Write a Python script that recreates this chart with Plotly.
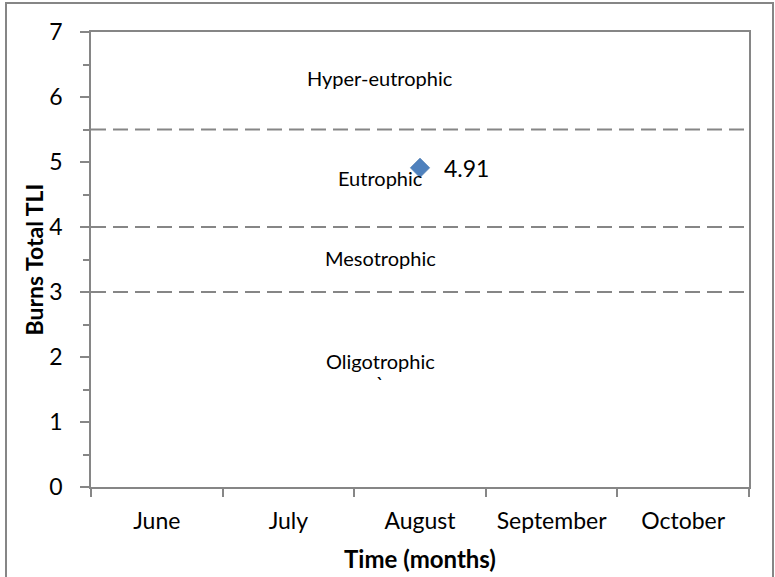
import plotly.graph_objects as go

# ---- data ----
months = ["June", "July", "August", "September", "October"]
tli_months = ["August"]
tli_values = [4.91]
thresholds = [5.5, 4.0, 3.0]
zone_labels = ["Hyper-eutrophic", "Eutrophic", "Mesotrophic", "Oligotrophic", "`"]
zone_label_y = [6.3, 4.76, 3.52, 1.94, 1.6]

FONT = "Lato"
GREY = "#868686"

fig = go.Figure()
fig.add_trace(go.Scatter(
    x=tli_months, y=tli_values, mode="markers",
    marker=dict(symbol="diamond", size=15, color="#4F81BD",
                line=dict(color="#4572A7", width=0.5)),
    showlegend=False, hoverinfo="x+y",
))

shapes = []
for t in thresholds:
    shapes.append(dict(type="line", xref="paper", x0=0, x1=1, yref="y", y0=t, y1=t,
                       line=dict(color=GREY, width=1.8, dash="15px,7px"), layer="above"))

# outer chart border
shapes.append(dict(type="rect", xref="paper", yref="paper",
                   x0=(6 - 91) / 658, x1=(773 - 91) / 658,
                   y0=(487 - 590) / 455, y1=(487 - 3) / 455,
                   line=dict(color=GREY, width=2), fillcolor="rgba(0,0,0,0)"))

annotations = []
for lab, yv in zip(zone_labels, zone_label_y):
    annotations.append(dict(x="August", y=yv, xref="x", yref="y", text=lab, showarrow=False,
                            xshift=-40,
                            font=dict(family=FONT, size=20, color="#000000")))
for xm, yv in zip(tli_months, tli_values):
    annotations.append(dict(x=xm, y=yv, xref="x", yref="y", text=f"{yv:.2f}", showarrow=False,
                            xanchor="left", xshift=22, yshift=0,
                            font=dict(family=FONT, size=23, color="#000000")))
# axis titles
annotations.append(dict(x=0.5, y=0, xref="paper", yref="paper", text="<b>Time (months)</b>",
                        showarrow=False, yanchor="middle", yshift=-71,
                        font=dict(family=FONT, size=24, color="#000000")))
annotations.append(dict(x=0, y=0.5, xref="paper", yref="paper", text="<b>Burns Total TLI</b>",
                        showarrow=False, xanchor="center", xshift=-58, textangle=-90,
                        font=dict(family=FONT, size=23, color="#000000")))

fig.update_layout(
    width=775, height=577,
    margin=dict(l=91, r=26, t=32, b=90),
    paper_bgcolor="white", plot_bgcolor="white",
    font=dict(family=FONT, color="#000000"),
    shapes=shapes, annotations=annotations,
    xaxis=dict(
        type="category", categoryorder="array", categoryarray=months,
        range=[-0.5, 4.5], tickvals=months, ticktext=months,
        tickson="boundaries", ticks="outside", ticklen=8, tickcolor=GREY, tickwidth=1.5,
        showline=True, linecolor=GREY, linewidth=1.8, mirror=True,
        showgrid=False, zeroline=False,
        tickfont=dict(family=FONT, size=23),
        ticklabelstandoff=12,
    ),
    yaxis=dict(
        range=[0, 7], dtick=1, tick0=0,
        ticks="outside", ticklen=9, tickcolor=GREY, tickwidth=1.5,
        minor=dict(dtick=0.5, ticks="outside", ticklen=6, tickcolor=GREY, tickwidth=1.5),
        showline=True, linecolor=GREY, linewidth=1.8, mirror=True,
        showgrid=False, zeroline=False,
        tickfont=dict(family=FONT, size=23),
        ticklabelstandoff=13,
    ),
)

fig.write_html("out.html", config={"displayModeBar": False},
               post_script="document.body.style.margin='0px';")
